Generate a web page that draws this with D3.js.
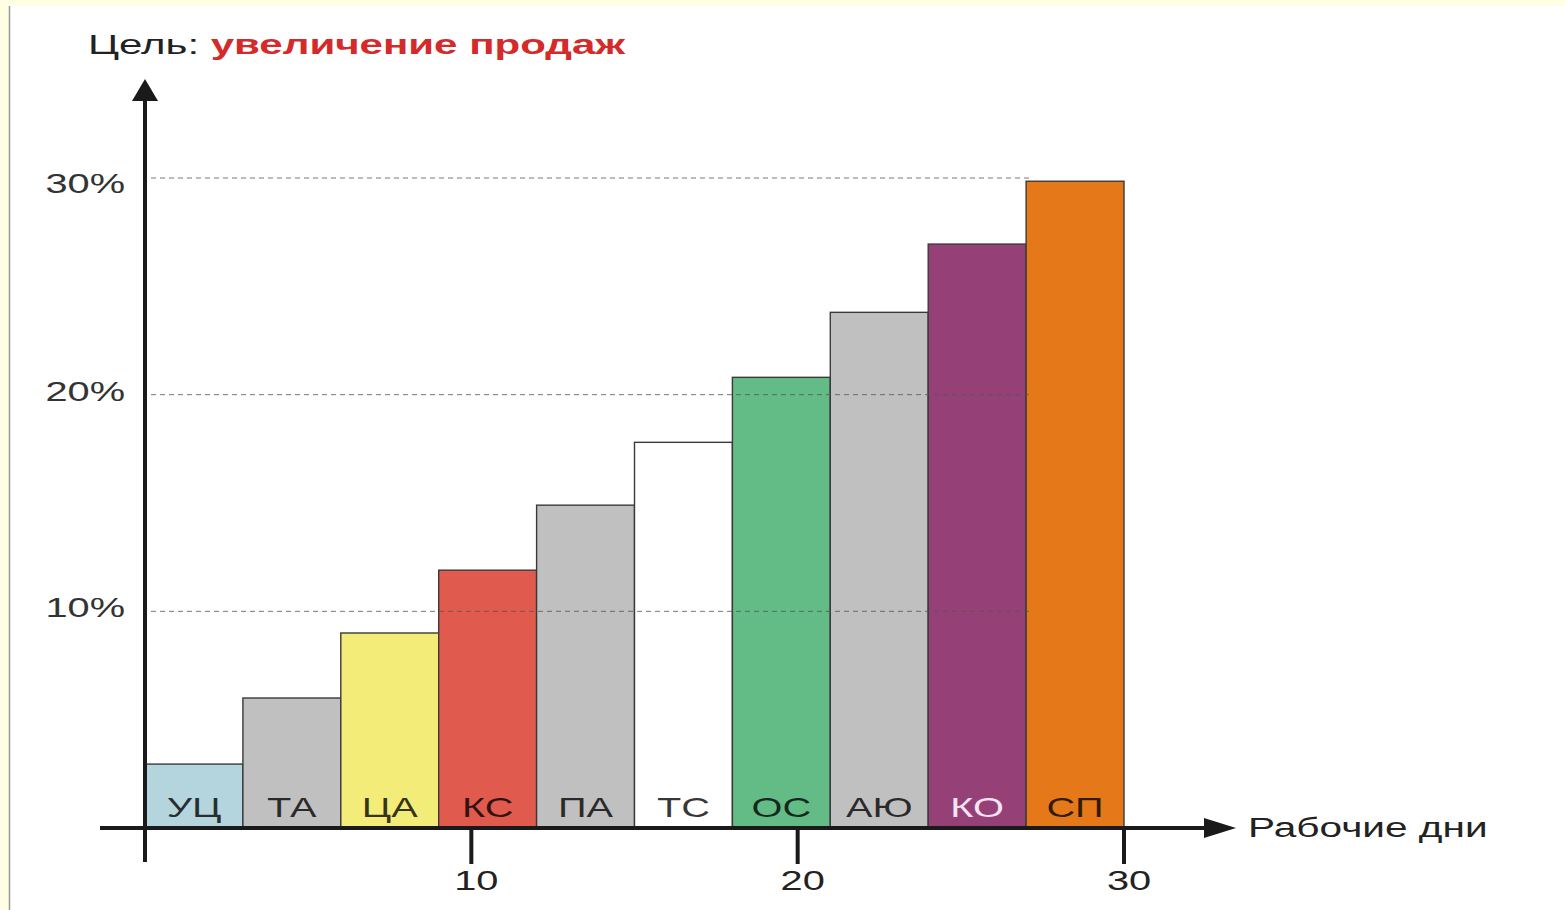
<!DOCTYPE html>
<html lang="ru">
<head>
  <meta charset="UTF-8">
  <title>Цель: увеличение продаж</title>
  <script src="https://d3js.org/d3.v7.min.js"></script>
  <style>
    body {
      margin: 0;
      background: #fffde3;
      font-family: "Liberation Sans", Arial, sans-serif;
    }
    svg {
      display: block;
    }
  </style>
</head>
<body>
  <svg width="1565" height="910"></svg>

  <script>
    // data
    const labels = ["УЦ", "ТА", "ЦА", "КС", "ПА", "ТС", "ОС", "АЮ", "КО", "СП"];
    const values = [2.95, 6, 9, 11.9, 14.9, 17.8, 20.8, 23.8, 26.95, 29.85]; // % growth
    const daysPerBar = 3;
    const yTicks = [10, 20, 30];
    const xTicks = [10, 20, 30];

    const colors = ["#b4d5de", "#c0c0c0", "#f4ec78", "#e05a4e", "#c0c0c0",
                    "#ffffff", "#63bb85", "#c0c0c0", "#954177", "#e5791a"];

    const stretch = 1.42; // the picture is wider than tall, text too

    const svg = d3.select("svg");

    // page frame
    svg.append("rect").attr("x", 9).attr("y", 6).attr("width", 1556).attr("height", 904).attr("fill", "#fff");
    svg.append("line").attr("x1", 9.5).attr("x2", 9.5).attr("y1", 6).attr("y2", 910)
      .attr("stroke", "#999").attr("stroke-width", 1.5);

    const x = d3.scaleLinear().domain([0, 30]).range([145, 1124]);
    const y = d3.scaleLinear().domain([0, 30]).range([828, 178]);

    function label(g, tx, ty, anchor, sx) {
      return g.append("text")
        .attr("transform", `translate(${tx},${ty}) scale(${sx || stretch},1)`)
        .attr("text-anchor", anchor || "start")
        .attr("font-size", 28);
    }

    const bars = values.map((v, i) => ({ label: labels[i], value: v, start: i * daysPerBar, i }));

    // bars
    svg.append("g").selectAll("rect")
      .data(bars)
      .join("rect")
      .attr("x", d => x(d.start))
      .attr("y", d => y(d.value))
      .attr("width", d => x(d.start + daysPerBar) - x(d.start))
      .attr("height", d => y(0) - y(d.value))
      .attr("fill", d => colors[d.i])
      .attr("stroke", "#3a3a3a")
      .attr("stroke-width", 1.4);

    const barText = svg.append("g");
    bars.forEach(d => {
      label(barText, x(d.start + daysPerBar / 2), y(0) - 11, "middle")
        .attr("fill", d.i === 8 ? "#f7e4f3" : "#000")
        .attr("fill-opacity", d.i === 8 ? 1 : 0.78)
        .text(d.label);
    });

    // dashed grid lines, drawn over the bars up to day 27
    svg.append("g").selectAll("line")
      .data(yTicks)
      .join("line")
      .attr("x1", x(0) + 6)
      .attr("x2", x(27) + 4)
      .attr("y1", d => y(d))
      .attr("y2", d => y(d))
      .attr("stroke", "#555")
      .attr("stroke-opacity", 0.8)
      .attr("stroke-width", 1)
      .attr("stroke-dasharray", "5,4");

    // y tick labels
    const yText = svg.append("g");
    yTicks.forEach(d => {
      label(yText, x(0) - 20, y(d) + (d === 30 ? 15 : 6), "end")
        .attr("fill", "#333")
        .text(d + "%");
    });

    // axes
    const axis = svg.append("g").attr("stroke", "#1a1a1a").attr("stroke-width", 4);
    axis.append("line").attr("x1", x(0)).attr("x2", x(0)).attr("y1", 100).attr("y2", 862);
    axis.append("line").attr("x1", 100).attr("x2", 1210).attr("y1", y(0)).attr("y2", y(0));
    axis.selectAll(".tick")
      .data(xTicks)
      .join("line")
      .attr("class", "tick")
      .attr("x1", d => x(d)).attr("x2", d => x(d))
      .attr("y1", y(0)).attr("y2", 864);

    svg.append("path")
      .attr("d", `M${x(0)},79 L${x(0) - 13},101 L${x(0) + 13},101 Z`)
      .attr("fill", "#1a1a1a");
    svg.append("path")
      .attr("d", `M1236,${y(0)} L1204,${y(0) - 10} L1204,${y(0) + 10} Z`)
      .attr("fill", "#1a1a1a");

    const xText = svg.append("g");
    xTicks.forEach(d => {
      label(xText, x(d) + 5, 890, "middle").attr("fill", "#222").text(d);
    });

    label(svg, 1248, 837, "start", 1.45).attr("fill", "#222").text("Рабочие дни");

    // title
    const title = label(svg, 88, 54, "start", 1.5).attr("font-size", 28);
    title.append("tspan").attr("fill", "#222").text("Цель: ");
    title.append("tspan").attr("fill", "#d42a2a").attr("font-weight", "bold").text("увеличение продаж");
  </script>
</body>
</html>
